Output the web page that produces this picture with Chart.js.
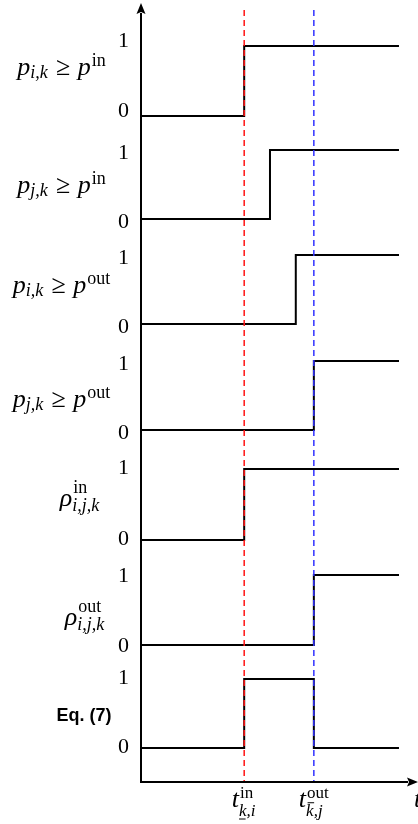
<!DOCTYPE html>
<html><head><meta charset="utf-8">
<script src="https://cdn.jsdelivr.net/npm/chart.js@4/dist/chart.umd.min.js"></script>
<style>html,body{margin:0;padding:0;background:#fff;overflow:hidden}</style>
</head><body>
<canvas id="c" width="418" height="824" style="display:block;width:418px;height:824px"></canvas>
<script>
// ---------- data ----------
const tIn = 4.0;          // t^in_{k,i}
const tOut = 6.7;         // t^out_{k,j}
const tEnd = 10.0;
const tAxisMax = 10.66;
const levelTicks = [0, 1];
// times at which each signal takes the listed level (step-before)
const stepTimes = [
  [0, tIn, tEnd],
  [0, 5.0, tEnd],
  [0, 6.0, tEnd],
  [0, tOut, tEnd],
  [0, tIn, tEnd],
  [0, tOut, tEnd],
  [0, tIn, tOut, tEnd]
];
const stepLevels = [
  [0, 1, 1],
  [0, 1, 1],
  [0, 1, 1],
  [0, 1, 1],
  [0, 1, 1],
  [0, 1, 1],
  [0, 1, 0, 0]
];
const rowLabels = [
  [{m:'p'},{sub:'i,k'},{rel:'≥'},{m:'p'},{sup:'in'}],
  [{m:'p'},{sub:'j,k'},{rel:'≥'},{m:'p'},{sup:'in'}],
  [{m:'p'},{sub:'i,k'},{rel:'≥'},{m:'p'},{sup:'out'}],
  [{m:'p'},{sub:'j,k'},{rel:'≥'},{m:'p'},{sup:'out'}],
  [{m:'ρ'},{sup:'in', sub:'i,j,k'}],
  [{m:'ρ'},{sup:'out', sub:'i,j,k'}],
  [{plain:'Eq. (7)'}]
];
const timeLabels = [
  {at: tIn,  tokens: [{m:'t'},{sup:'in', sub:'k,i', deco:'under'}]},
  {at: tOut, tokens: [{m:'t'},{sup:'out', sub:'k,j', deco:'bar'}]}
];
const axisLabel = 't';

// ---------- layout (not data) ----------
const rowLayout = [
  {h:123,   min:-0.243, max:1.514, tickShift:-5,  cx:61.5, by:0.586},
  {h:104,   min:-0.261, max:1.246, tickShift:3,   cx:61.5, by:0.377},
  {h:105.5, min:-0.268, max:1.261, tickShift:3,   cx:61.5, by:0.45},
  {h:107,   min:-0.283, max:1.268, tickShift:3,   cx:61.5, by:0.333},
  {h:108,   min:-0.246, max:1.275, tickShift:-1,  cx:80,   by:0.479},
  {h:104.5, min:-0.243, max:1.25,  tickShift:1.5, cx:85,   by:0.286},
  {h:120,   min:-0.493, max:1.246, tickShift:-1,  cx:84,   by:0.39}
];
const SERIF = '"Liberation Serif", "Times New Roman", serif';

const scales = { x: { type:'linear', min:0, max:tAxisMax, display:false } };
rowLayout.forEach((r, i) => {
  scales['y' + i] = {
    type:'linear', position:'left', stack:'rows', stackWeight:r.h, weight:10 - i,
    min:r.min, max:r.max,
    grid:{display:false, drawTicks:false}, border:{display:false},
    afterBuildTicks: s => { s.ticks = levelTicks.map(v => ({value:v})); },
    afterFit: s => { s.width = 141; s.paddingTop = 0; s.paddingBottom = 0; },
    ticks:{ padding:12, labelOffset:r.tickShift, color:'#000',
            font:{family:SERIF, size:22}, callback: v => String(v) }
  };
});

const datasets = stepTimes.map((ts, i) => ({
  data: ts.map((t, k) => ({x:t, y:stepLevels[i][k]})),
  xAxisID:'x', yAxisID:'y' + i,
  borderColor:'#000', borderWidth:2, pointRadius:0, stepped:'before',
  fill:false, tension:0, borderJoinStyle:'miter', borderCapStyle:'butt'
}));

function drawMath(ctx, tokens, cx, base, S, s, opt) {
  const items = [];
  let x = 0;
  for (const tk of tokens) {
    if (tk.plain) {
      ctx.font = 'bold 18px "Liberation Sans", Arial, sans-serif';
      items.push({text:tk.plain, font:ctx.font, x, dy:0});
      x += ctx.measureText(tk.plain).width;
    } else if (tk.m) {
      ctx.font = `italic ${S}px ${SERIF}`;
      items.push({text:tk.m, font:ctx.font, x, dy:0});
      x += ctx.measureText(tk.m).width;
    } else if (tk.rel) {
      ctx.font = `${S}px ${SERIF}`;
      const gap = S * 0.28;
      x += gap;
      items.push({text:tk.rel, font:ctx.font, x, dy:0});
      x += ctx.measureText(tk.rel).width + gap;
    } else {
      const both = tk.sup && tk.sub;
      let w1 = 0, w2 = 0;
      if (tk.sup) {
        ctx.font = `${s}px ${SERIF}`;
        w1 = ctx.measureText(tk.sup).width;
        items.push({text:tk.sup, font:ctx.font, x:x + 1, dy:-(both ? opt.supUp2 : opt.supUp)});
      }
      if (tk.sub) {
        ctx.font = `italic ${s}px ${SERIF}`;
        w2 = ctx.measureText(tk.sub).width;
        const cw = ctx.measureText(tk.sub[0]).width;
        items.push({text:tk.sub, font:ctx.font, x:x, dy:(both ? opt.subDn2 : opt.subDn), deco:tk.deco, cw, s});
      }
      x += Math.max(w1, w2 + 0) + 1;
    }
  }
  const x0 = cx - x / 2;
  ctx.fillStyle = '#000';
  ctx.textAlign = 'left';
  ctx.textBaseline = 'alphabetic';
  for (const it of items) {
    ctx.font = it.font;
    ctx.fillText(it.text, x0 + it.x, base + it.dy);
    if (it.deco) {
      ctx.save();
      ctx.strokeStyle = '#000'; ctx.lineWidth = 1;
      const yy = it.deco === 'under' ? base + it.dy + 3 : base + it.dy - it.s * 0.78;
      const xa = x0 + it.x + (it.deco === 'bar' ? 1.5 : 0);
      ctx.beginPath(); ctx.moveTo(xa, yy); ctx.lineTo(xa + it.cw - 1, yy); ctx.stroke();
      ctx.restore();
    }
  }
}

const decor = {
  id:'decor',
  afterDatasetsDraw(chart) {
    const ctx = chart.ctx, a = chart.chartArea, xs = chart.scales.x;
    ctx.save();
    // dashed guide lines
    [[tIn, 'rgb(255,20,20)'], [tOut, 'rgb(50,50,255)']].forEach(([t, c]) => {
      const px = xs.getPixelForValue(t);
      ctx.strokeStyle = c; ctx.lineWidth = 1.5; ctx.setLineDash([6, 4]);
      ctx.beginPath(); ctx.moveTo(px, a.top); ctx.lineTo(px, a.bottom); ctx.stroke();
    });
    ctx.setLineDash([]);
    // axes
    ctx.strokeStyle = '#000'; ctx.fillStyle = '#000'; ctx.lineWidth = 2;
    const L = a.left, B = a.bottom;
    ctx.beginPath(); ctx.moveTo(L, 13); ctx.lineTo(L, B + 1); ctx.stroke();
    ctx.beginPath(); ctx.moveTo(L - 1, B); ctx.lineTo(a.right - 8, B); ctx.stroke();
    ctx.beginPath(); ctx.moveTo(L, 3); ctx.lineTo(L - 4.5, 14); ctx.lineTo(L, 12); ctx.lineTo(L + 4.5, 14); ctx.closePath(); ctx.fill();
    const R = a.right + 2;
    ctx.beginPath(); ctx.moveTo(R, B); ctx.lineTo(R - 11, B - 4.5); ctx.lineTo(R - 9, B); ctx.lineTo(R - 11, B + 4.5); ctx.closePath(); ctx.fill();
    // row labels
    rowLabels.forEach((tokens, i) => {
      const ys = chart.scales['y' + i];
      const r = rowLayout[i];
      drawMath(ctx, tokens, r.cx, ys.getPixelForValue(r.by), 26, 18,
               {supUp:9, subDn:3, supUp2:13, subDn2:5});
    });
    // time labels
    timeLabels.forEach(tl => {
      drawMath(ctx, tl.tokens, xs.getPixelForValue(tl.at), B + 25, 26, 17,
               {supUp:8, subDn:8, supUp2:9, subDn2:9});
    });
    ctx.font = `italic 26px ${SERIF}`;
    ctx.textAlign = 'left';
    ctx.fillText(axisLabel, a.right - 2, B + 25);
    ctx.restore();
  }
};

new Chart(document.getElementById('c'), {
  type:'line',
  data:{ datasets },
  options:{
    responsive:false, animation:false, devicePixelRatio:1,
    layout:{ padding:{ top:10, right:2, bottom:42, left:0 } },
    plugins:{ legend:{display:false}, tooltip:{enabled:false} },
    scales
  },
  plugins:[decor]
});
</script>
</body></html>
